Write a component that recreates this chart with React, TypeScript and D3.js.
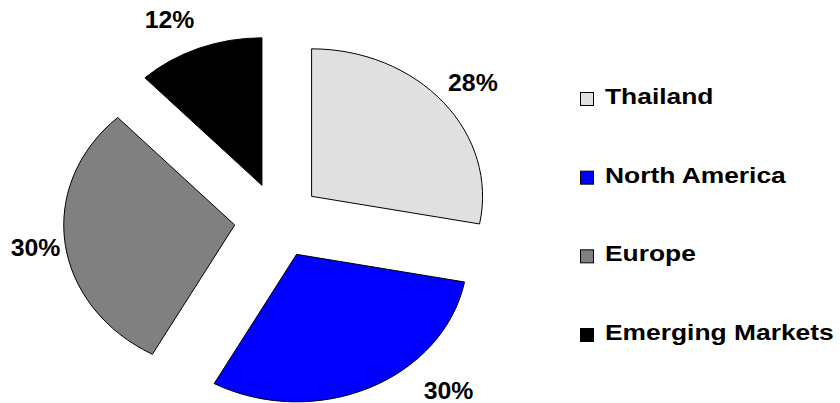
import React from "react";
import * as d3 from "d3";

const categories = ["Thailand", "North America", "Europe", "Emerging Markets"];
const shares = [28, 30, 30, 12];
const colors = ["#E0E0E0", "#0000FF", "#808080", "#000000"];

const W = 840;
const H = 403;
const CX = 278;
const CY = 220.3;
const RX = 171;
const RY = 147.5;
const R = 100;
const EXPLODE = 0.255;
const FONT = "'Liberation Sans', Arial, Helvetica, sans-serif";

export default function App() {
  const arcs = d3.pie<number>().sort(null).value((d) => d)(shares);
  const arcGen = d3.arc<d3.PieArcDatum<number>>().innerRadius(0).outerRadius(R);
  const total = d3.sum(shares);
  const fmt = (v: number) => `${Math.round((v / total) * 100)}%`;

  const legendY = d3.scaleLinear().domain([0, categories.length - 1]).range([104, 340]);

  return (
    <svg width={W} height={H} style={{ position: "absolute", left: 0, top: 0, background: "#fff" }}>
      <g transform={`translate(${CX},${CY})`}>
        {arcs.map((a, i) => {
          const mid = (a.startAngle + a.endAngle) / 2;
          const ox = EXPLODE * RX * Math.sin(mid);
          const oy = -EXPLODE * RY * Math.cos(mid);
          return (
            <g key={i} transform={`translate(${ox},${oy}) scale(${RX / R},${RY / R})`}>
              <path
                d={arcGen(a) || ""}
                fill={colors[i]}
                stroke="#000"
                strokeWidth={1}
                vectorEffect="non-scaling-stroke"
              />
            </g>
          );
        })}
        {arcs.map((a, i) => {
          const mid = (a.startAngle + a.endAngle) / 2;
          const vx = EXPLODE * RX * Math.sin(mid);
          const vy = -EXPLODE * RY * Math.cos(mid);
          let th = mid;
          let ly = vy - (RY + 31) * Math.cos(th);
          const maxY = H - 12 - CY;
          let extra = 0;
          if (ly > maxY) {
            const overflow = ly - maxY;
            const c = -(maxY - vy) / (RY + 31);
            const base = Math.acos(Math.max(-1, Math.min(1, c)));
            th = Math.sin(mid) >= 0 ? base : 2 * Math.PI - base;
            ly = maxY;
            extra = 0.5 * overflow * Math.sign(Math.sin(th));
          }
          const s = Math.sin(th);
          const lx = vx + RX * s + 29.5 * Math.sign(s) + extra;
          return (
            <text
              key={"l" + i}
              transform={`translate(${lx},${ly + 8.3}) scale(1.08,1)`}
              textAnchor="middle"
              fontFamily={FONT}
              fontWeight="bold"
              fontSize={23}
              fill="#000"
            >
              {fmt(shares[i])}
            </text>
          );
        })}
      </g>
      <g>
        {categories.map((c, i) => (
          <g key={c}>
            <rect
              x={580.5}
              y={legendY(i) - 11.5}
              width={13}
              height={13}
              fill={colors[i]}
              stroke="#000"
              strokeWidth={1}
            />
            <text
              transform={`translate(605,${legendY(i)}) scale(1.2,1)`}
              fontFamily={FONT}
              fontWeight="bold"
              fontSize={22}
              fill="#000"
            >
              {c}
            </text>
          </g>
        ))}
      </g>
    </svg>
  );
}
